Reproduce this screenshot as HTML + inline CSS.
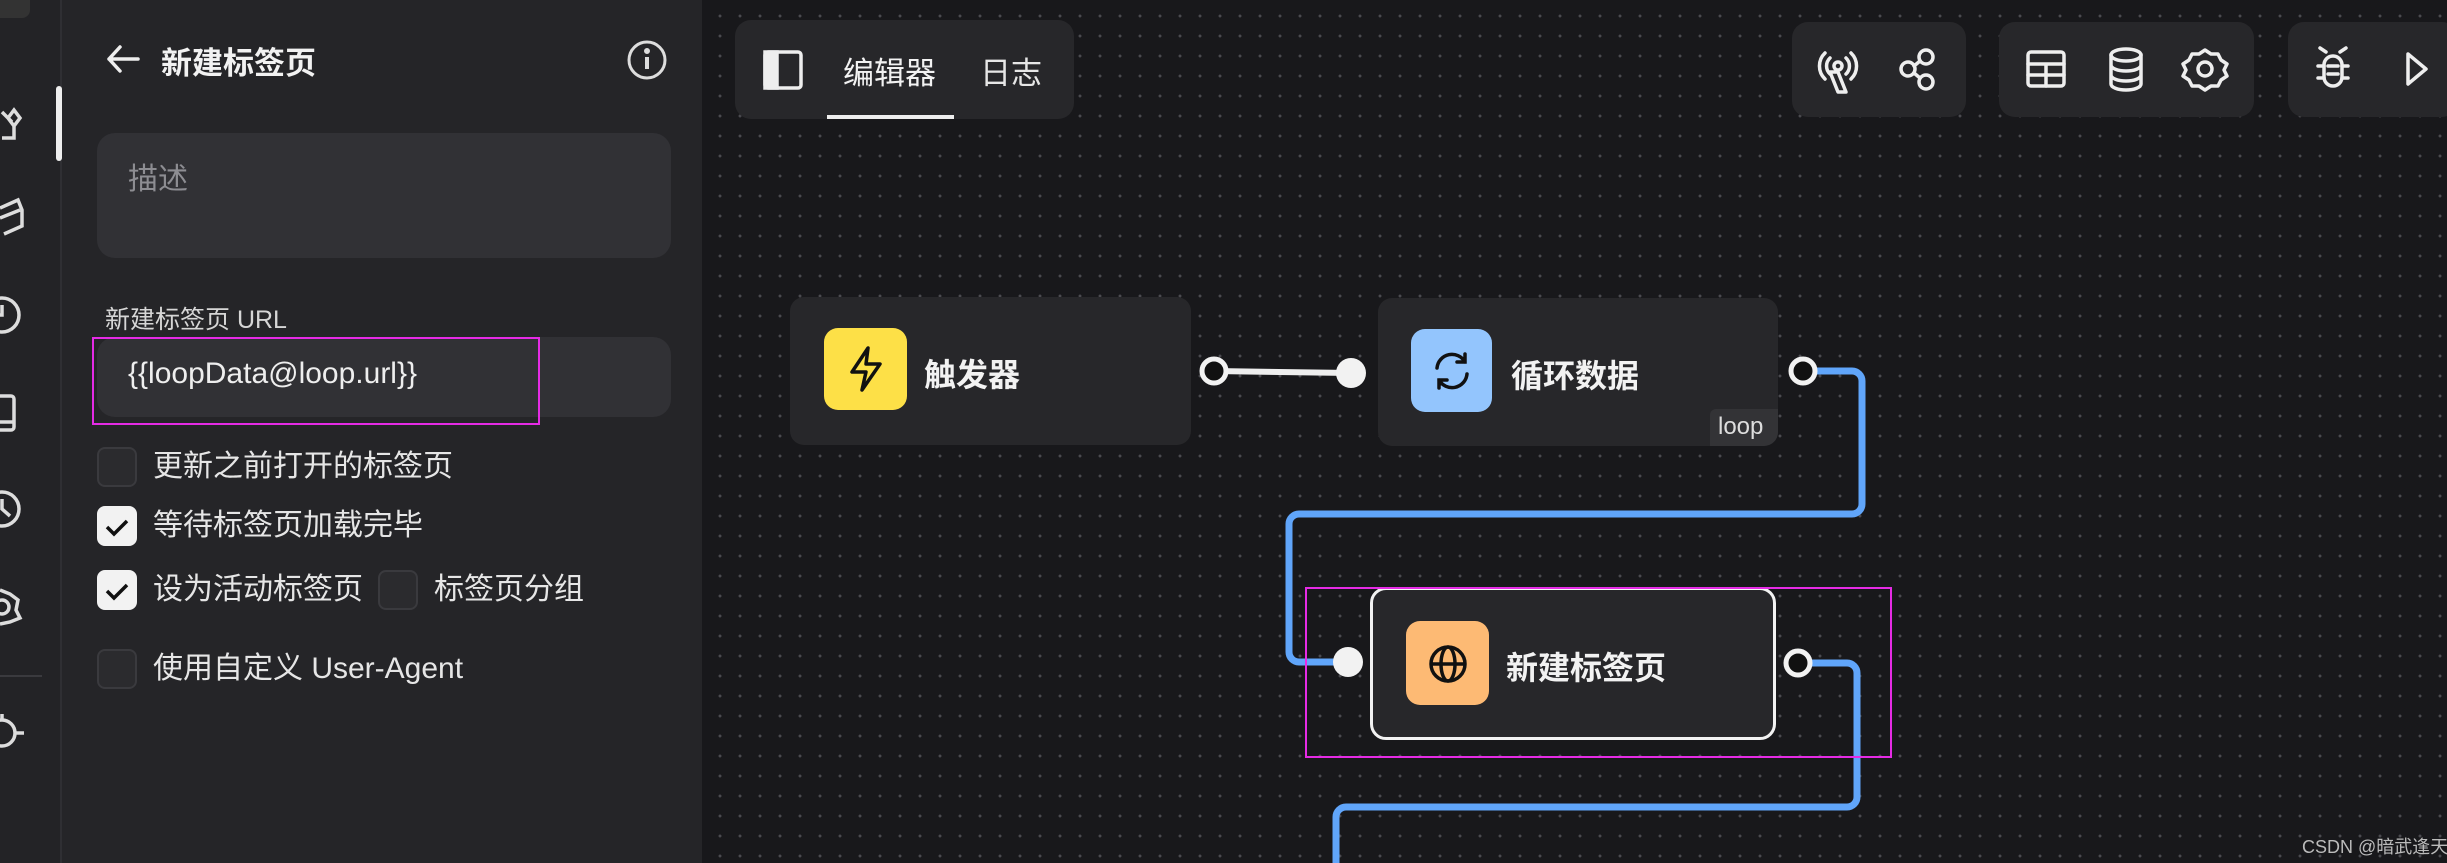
<!DOCTYPE html>
<html style="overflow:hidden"><head><meta charset="utf-8"><style>
*{margin:0;padding:0;box-sizing:border-box}
html,body{width:2447px;height:863px;overflow:hidden}
body{background:#18181b;font-family:"Liberation Sans","Noto Sans CJK SC",sans-serif;color:#eee;position:relative}
.a{position:absolute;white-space:nowrap}
#canvas{left:702px;top:0;width:1745px;height:863px;background-color:#18181b;background-image:radial-gradient(circle,#4a4a4f 1.3px,transparent 1.6px);background-size:20px 20px;background-position:8px 6px}
#rail{left:0;top:0;width:62px;height:863px;background:#232326;border-right:2px solid #2f2f33}
#panel{left:62px;top:0;width:640px;height:863px;background:#252528}
.ta{background:#313135;border-radius:18px}
.cb{width:40px;height:40px;border-radius:8px;border:2px solid #3a3a3e;background:#2b2b2e}
.cb.on{background:#f2f2f2;border-color:#f2f2f2}
.lbl{font-size:30px;color:#e6e6e6;line-height:40px}
.tb{background:#27272a;border-radius:16px}
.node{background:#27272a;border-radius:14px}
.ic{border-radius:14px}
.nt{font-size:32px;font-weight:bold;color:#f2f2f2}
</style></head><body>
<div id="canvas" class="a"></div>
<div id="rail" class="a">
 <div class="a" style="left:0;top:0;width:30px;height:18px;background:#333;border-radius:0 0 8px 0"></div>
 <div class="a" style="left:56px;top:86px;width:6px;height:75px;background:#eee;border-radius:3px"></div>
 <svg class="a" style="left:0;top:0" width="62" height="760" fill="none" stroke="#ddd" stroke-width="3.5">
  <path d="M2 112 L12 122 M14 110 L20 118 L14 126 L8 118Z M14 126 V138 H2"/>
  <path d="M0 208 L18 200 L22 210 L22 226 L4 234 M0 218 L20 210"/>
  <circle cx="2" cy="315" r="17"/><path d="M2 305 V315 H-8"/>
  <rect x="-10" y="396" width="24" height="34" rx="3"/><path d="M-10 422 H14"/>
  <circle cx="2" cy="509" r="17"/><path d="M2 499 V509 L10 516"/>
  <path d="M0 590 L10 594 L18 600 L16 610 L20 618 L10 622 L0 624"/><circle cx="2" cy="607" r="7"/>
  <circle cx="2" cy="733" r="13"/><path d="M15 733 H24 M2 714 V720"/>
 </svg>
 <div class="a" style="left:0;top:675px;width:42px;height:2px;background:#3a3a3e"></div>
</div>
<div id="panel" class="a">
 <svg class="a" style="left:44px;top:44px" width="34" height="30" fill="none" stroke="#eee" stroke-width="3.5" stroke-linecap="round" stroke-linejoin="round"><path d="M32 15 H3 M14 3 L3 15 L14 27"/></svg>
 <div class="a" style="left:99px;top:38px;font-size:31px;font-weight:bold;color:#f2f2f2">新建标签页</div>
 <svg class="a" style="left:564px;top:39px" width="42" height="42" fill="none" stroke="#ddd" stroke-width="3"><circle cx="21" cy="21" r="18"/><path d="M21 18 V30" stroke-width="4"/><circle cx="21" cy="12" r="1.5" fill="#ddd"/></svg>
 <div class="a ta" style="left:35px;top:133px;width:574px;height:125px"></div>
 <div class="a" style="left:66px;top:154px;font-size:30px;color:#8d8d92">描述</div>
 <div class="a" style="left:43px;top:300px;font-size:25px;color:#d6d6d6">新建标签页 URL</div>
 <div class="a ta" style="left:35px;top:337px;width:574px;height:80px"></div>
 <div class="a" style="left:66px;top:357px;font-size:30px;color:#eee">{{loopData@loop.url}}</div>
 <div class="a" style="left:30px;top:337px;width:448px;height:88px;border:2px solid #e52be5"></div>
 <div class="a cb" style="left:35px;top:447px"></div><div class="a lbl" style="left:91px;top:447px">更新之前打开的标签页</div>
 <div class="a cb on" style="left:35px;top:506px"></div><div class="a lbl" style="left:91px;top:506px">等待标签页加载完毕</div>
 <div class="a cb on" style="left:35px;top:570px"></div><div class="a lbl" style="left:91px;top:570px">设为活动标签页</div>
 <div class="a cb" style="left:316px;top:570px"></div><div class="a lbl" style="left:372px;top:570px">标签页分组</div>
 <div class="a cb" style="left:35px;top:649px"></div><div class="a lbl" style="left:91px;top:649px">使用自定义 User-Agent</div>
 <svg class="a" style="left:35px;top:506px" width="40" height="110" fill="none" stroke="#111" stroke-width="3.5"><path d="M10 21 L17 28 L30 15"/><path d="M10 85 L17 92 L30 79"/></svg>
</div>
<div class="a tb" style="left:735px;top:20px;width:339px;height:99px"></div>
<svg class="a" style="left:763px;top:50px" width="40" height="40" fill="none" stroke="#eee" stroke-width="3.5"><rect x="2" y="2" width="36" height="36" rx="3"/><rect x="2" y="2" width="12" height="36" fill="#eee"/></svg>
<div class="a" style="left:843px;top:48px;font-size:31px;color:#f2f2f2">编辑器</div>
<div class="a" style="left:980px;top:48px;font-size:31px;color:#e6e6e6">日志</div>
<div class="a" style="left:827px;top:115px;width:127px;height:4px;background:#eee"></div>
<div class="a tb" style="left:1792px;top:22px;width:174px;height:95px"></div>
<div class="a tb" style="left:1999px;top:22px;width:255px;height:95px"></div>
<div class="a tb" style="left:2288px;top:22px;width:170px;height:95px"></div>
<svg class="a" style="left:1792px;top:22px" width="660" height="95" fill="none" stroke="#eee" stroke-width="3.5" stroke-linecap="round" stroke-linejoin="round">
 <path d="M38 50 L46 70 L54 70 L46 50 Z"/><circle cx="46" cy="44" r="4"/><path d="M38 36 a11 11 0 0 0 0 16 M54 36 a11 11 0 0 1 0 16 M33 31 a18 18 0 0 0 0 26 M59 31 a18 18 0 0 1 0 26"/>
 <circle cx="116" cy="47" r="7"/><circle cx="134" cy="35" r="7"/><circle cx="134" cy="60" r="7"/><path d="M122 44 L128 39 M122 51 L128 56"/>
 <rect x="236" y="30" width="36" height="34" rx="3"/><path d="M236 42 H272 M236 53 H272 M254 42 V64"/>
 <ellipse cx="334" cy="33" rx="15" ry="6"/><path d="M319 33 V62 a15 6 0 0 0 30 0 V33 M319 43 a15 6 0 0 0 30 0 M319 53 a15 6 0 0 0 30 0"/>
 <path d="M413 28 l6 4 l7 0 l3 6 l6 4 l-3 6 l3 6 l-6 4 l-3 6 l-7 0 l-6 4 l-6 -4 l-7 0 l-3 -6 l-6 -4 l3 -6 l-3 -6 l6 -4 l3 -6 l7 0 Z"/><circle cx="413" cy="47" r="7"/>
 <rect x="532" y="34" width="18" height="30" rx="9"/><path d="M534 30 L528 26 M548 30 L554 26 M526 44 H532 M550 44 H556 M526 56 H532 M550 56 H556 M536 44 H546 M536 52 H546"/>
 <path d="M616 32 L634 47 L616 62 Z"/>
</svg>
<svg class="a" style="left:0;top:0" width="2447" height="863" fill="none">
 <path d="M1214 371 L1351 373" stroke="#eee" stroke-width="6"/>
 <path d="M1803 371 H1852 a10 10 0 0 1 10 10 V504 a10 10 0 0 1 -10 10 H1299 a10 10 0 0 0 -10 10 V652 a10 10 0 0 0 10 10 H1348" stroke="#60a5fa" stroke-width="7"/>
 <path d="M1798 663 H1847 a10 10 0 0 1 10 10 V797 a10 10 0 0 1 -10 10 H1346 a10 10 0 0 0 -10 10 V863" stroke="#60a5fa" stroke-width="7"/>
</svg>
<div class="a node" style="left:790px;top:297px;width:401px;height:148px"></div>
<div class="a ic" style="left:824px;top:328px;width:83px;height:82px;background:#fde047"></div>
<svg class="a" style="left:848px;top:346px" width="36" height="46" fill="none" stroke="#111" stroke-width="3.5" stroke-linejoin="round"><path d="M20 2 L4 26 H18 L14 44 L32 18 H18 Z"/></svg>
<div class="a nt" style="left:924px;top:350px">触发器</div>
<div class="a node" style="left:1378px;top:298px;width:400px;height:148px"></div>
<div class="a ic" style="left:1411px;top:329px;width:81px;height:83px;background:#93c5fd"></div>
<svg class="a" style="left:1431px;top:350px" width="42" height="42" fill="none" stroke="#111" stroke-width="3.5" stroke-linecap="round"><path d="M6 18 a15 15 0 0 1 28 -6 M36 24 a15 15 0 0 1 -28 6 M34 4 V12 H26 M8 38 V30 H16"/></svg>
<div class="a nt" style="left:1511px;top:351px">循环数据</div>
<div class="a" style="left:1710px;top:409px;width:68px;height:37px;background:#333336;border-radius:6px 0 14px 0;font-size:24px;color:#ddd;padding:4px 0 0 8px">loop</div>
<div class="a node" style="left:1370px;top:587px;width:406px;height:153px;border:3px solid #f2f2f2;border-radius:16px"></div>
<div class="a ic" style="left:1406px;top:621px;width:83px;height:84px;background:#fdba74"></div>
<svg class="a" style="left:1427px;top:643px" width="42" height="42" fill="none" stroke="#111" stroke-width="3.5"><circle cx="21" cy="21" r="17"/><ellipse cx="21" cy="21" rx="7" ry="17"/><path d="M4 21 H38"/></svg>
<div class="a nt" style="left:1506px;top:643px">新建标签页</div>
<div class="a" style="left:1305px;top:587px;width:587px;height:171px;border:2px solid #e52be5"></div>
<svg class="a" style="left:0;top:0" width="2447" height="863">
 <g stroke="#f2f2f2" stroke-width="5" fill="#111"><circle cx="1214" cy="371" r="12"/><circle cx="1803" cy="371" r="12"/><circle cx="1798" cy="663" r="12"/></g>
 <g fill="#f2f2f2"><circle cx="1351" cy="373" r="15"/><circle cx="1348" cy="662" r="15"/></g>
</svg>
<div class="a" style="left:2302px;top:833px;font-size:18px;color:#bbb">CSDN @暗武逢天</div>
</body></html>
